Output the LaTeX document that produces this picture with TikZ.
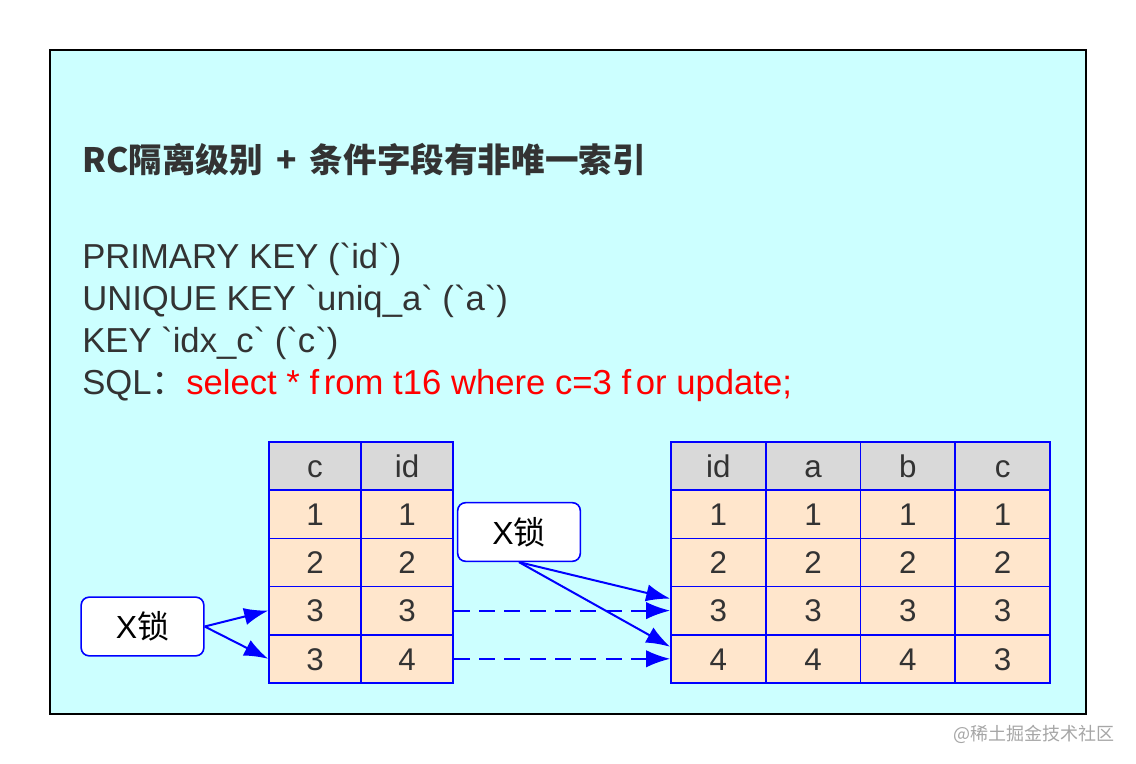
\documentclass[tikz,border=0pt]{standalone}
\usepackage{fontspec}
\setmainfont{Liberation Sans}[Ligatures=TeXOff]
\newfontfamily\cjk{Noto Sans CJK SC}
\usepackage{xcolor}
\usetikzlibrary{arrows.meta}

\definecolor{bgcyan}{HTML}{CCFFFF}
\definecolor{headgray}{HTML}{D9D9D9}
\definecolor{rowpeach}{HTML}{FFE6CC}
\definecolor{txtgray}{HTML}{333333}
\definecolor{sqlred}{HTML}{FF0000}

\tikzset{
  cell/.style={draw=blue, line width=1.2pt, minimum height=36.15pt, inner sep=0pt,
    text=txtgray, text height=17pt, text depth=0pt, font=\fontsize{23.5}{23.5}\selectfont},
  headcell/.style={cell, fill=headgray},
  bodycell/.style={cell, fill=rowpeach},
  lockbox/.style={draw=blue, line width=1.2pt, fill=white, rounded corners=6pt,
    minimum width=92pt, minimum height=44pt, font=\fontsize{24}{24}\selectfont},
  lockarrow/.style={draw=blue, line width=1.5pt, -{Latex[length=18pt,width=13pt]}},
  codeline/.style={anchor=base west, inner sep=0pt, text=txtgray, font=\fontsize{26}{26}\selectfont}
}
\newcommand\fgap{f\kern3.5pt}

\begin{document}
\begin{tikzpicture}[x=0.75pt, y=-0.75pt]
    \useasboundingbox[fill=white] (0,0) rectangle (1136,764);
    \draw[fill=bgcyan, line width=1.5pt] (50,50) rectangle (1086,714);

    \node[codeline, font=\cjk\bfseries\fontsize{25.2}{25.2}\selectfont] (title) at (82,172) {RC隔离级别\ \,+\ \,条件字段有非唯一索引};
    \node[codeline] (pkey) at (82,268) {PRIMARY KEY (`id`)};
    \node[codeline] (ukey) at (82,310) {UNIQUE KEY `uniq\_a` (`a`)};
    \node[codeline] (ckey) at (82,352) {KEY `idx\_c` (`c`)};
    \node[codeline] (sql) at (82,394) {SQL{\cjk ：}\textcolor{sqlred}{select * \fgap rom t16 where c=3 \fgap or update;}};

    % secondary index idx_c
    \foreach \t [count=\k] in {c,id}
      \node[headcell, minimum width=69pt] (ix-0-\k) at ({269+92*(\k-0.5)},466) {\t};
    \foreach \r/\cells in {1/{1,1},2/{2,2},3/{3,3},4/{3,4}}
      \foreach \t [count=\k] in \cells
        \node[bodycell, minimum width=69pt] (ix-\r-\k) at ({269+92*(\k-0.5)},{466+48.2*\r}) {\t};

    % primary key rows
    \foreach \t [count=\k] in {id,a,b,c}
      \node[headcell, minimum width=71.06pt] (pk-0-\k) at ({671+94.75*(\k-0.5)},466) {\t};
    \foreach \r/\cells in {1/{1,1,1,1},2/{2,2,2,2},3/{3,3,3,3},4/{4,4,4,3}}
      \foreach \t [count=\k] in \cells
        \node[bodycell, minimum width=71.06pt] (pk-\r-\k) at ({671+94.75*(\k-0.5)},{466+48.2*\r}) {\t};

    \node[lockbox] (lockL) at (142.5,626.5) {X{\cjk 锁}};
    \node[lockbox] (lockM) at (519,532) {X{\cjk 锁}};

    \draw[lockarrow] (lockL.east) -- (ix-3-1.west);
    \draw[lockarrow] (lockL.east) -- (ix-4-1.west);
    \draw[lockarrow] (lockM.south) -- ([yshift=9pt]pk-3-1.west);
    \draw[lockarrow] (lockM.south) -- ([yshift=9pt]pk-4-1.west);
    \draw[lockarrow, dash pattern=on 12pt off 7pt] (ix-3-2.east) -- (pk-3-1.west);
    \draw[lockarrow, dash pattern=on 12pt off 7pt] (ix-4-2.east) -- (pk-4-1.west);

    \node[anchor=east, inner sep=0pt, text=gray!70, font=\cjk\fontsize{13.5}{13.5}\selectfont] (mark) at (1115,734) {@稀土掘金技术社区};
\end{tikzpicture}
\end{document}
